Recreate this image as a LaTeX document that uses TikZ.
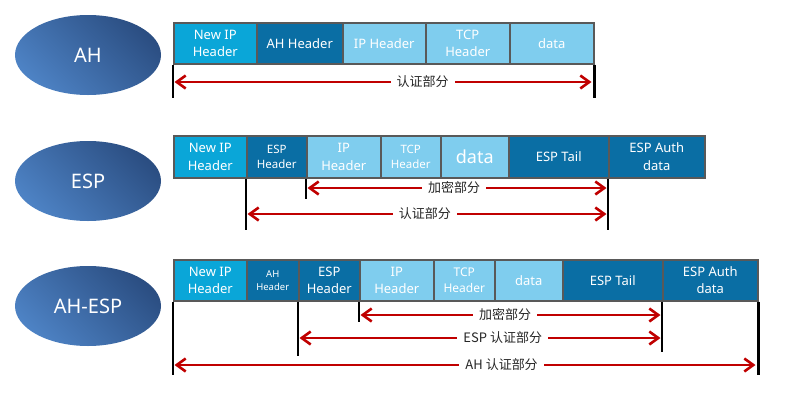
\documentclass[tikz,border=0pt]{standalone}
\usepackage{fontspec}
\setmainfont{Noto Sans}
\newfontfamily\cjk{Noto Sans CJK SC}
\usetikzlibrary{arrows.meta,shapes.geometric}
\definecolor{cA}{HTML}{0AA6D8}
\definecolor{cB}{HTML}{0A6EA4}
\definecolor{cC}{HTML}{7FCDEE}
\definecolor{bd}{HTML}{595959}
\definecolor{ar}{HTML}{C00000}
\definecolor{elA}{HTML}{4D82C4}
\definecolor{elB}{HTML}{2B4E82}
\newcommand\fs[2]{\fontsize{#1}{#2}\selectfont}
\begin{document}
\begin{tikzpicture}[x=1pt,y=-1pt,
  box/.style={draw=bd, line width=1.5pt, text=white, align=center, anchor=north west, inner sep=0pt, font=\fs{13}{17.5}},
  lbl/.style={fill=white, text=black!85, inner xsep=6pt, inner ysep=1pt, font=\cjk\fs{13}{15}},
  arr/.style={draw=ar, line width=2.6pt, {Straight Barb[length=9pt,width=13pt]}-{Straight Barb[length=9pt,width=13pt]}},
  bar/.style={draw=black, line width=2.6pt},
  oval/.style={ellipse, minimum width=146pt, minimum height=80pt, inner sep=0pt, text=white, font=\fs{20}{24},
    left color=elA, right color=elB, shading angle=135}
]
\useasboundingbox (0,0) rectangle (798,405);

% ellipses
\node[oval] (eAH) at (88,55) {AH};
\node[oval] (eESP) at (88,181) {ESP};
\node[oval] (eAE) at (88,306) {AH-ESP};

% row 1
\node[box, fill=cA, minimum width=83pt, minimum height=41pt] (a1) at (173,22) {New IP\\Header};
\node[box, fill=cB, minimum width=86pt, minimum height=41pt] (a2) at (256,22) {AH Header};
\node[box, fill=cC, minimum width=83pt, minimum height=41pt] (a3) at (342,22) {IP Header};
\node[box, fill=cC, minimum width=84pt, minimum height=41pt] (a4) at (425,22) {TCP\\Header};
\node[box, fill=cC, minimum width=84pt, minimum height=41pt] (a5) at (509,22) {data};

% row 2
\node[box, fill=cA, minimum width=73pt, minimum height=42pt] (b1) at (173,135) {New IP\\Header};
\node[box, fill=cB, minimum width=60pt, minimum height=42pt, font=\fs{11.5}{15}] (b2) at (246,135) {ESP\\Header};
\node[box, fill=cC, minimum width=74pt, minimum height=42pt] (b3) at (306,135) {IP\\Header};
\node[box, fill=cC, minimum width=60pt, minimum height=42pt, font=\fs{11.5}{15}] (b4) at (380,135) {TCP\\Header};
\node[box, fill=cC, minimum width=68pt, minimum height=42pt, font=\fs{18}{22}] (b5) at (440,135) {data};
\node[box, fill=cB, minimum width=100pt, minimum height=42pt] (b6) at (508,135) {ESP Tail};
\node[box, fill=cB, minimum width=96pt, minimum height=42pt] (b7) at (608,135) {ESP Auth\\data};

% row 3
\node[box, fill=cA, minimum width=73pt, minimum height=41pt] (c1) at (173,259) {New IP\\Header};
\node[box, fill=cB, minimum width=52pt, minimum height=41pt, font=\fs{9.5}{13}] (c2) at (246,259) {AH\\Header};
\node[box, fill=cB, minimum width=61pt, minimum height=41pt] (c3) at (298,259) {ESP\\Header};
\node[box, fill=cC, minimum width=74pt, minimum height=41pt] (c4) at (359,259) {IP\\Header};
\node[box, fill=cC, minimum width=61pt, minimum height=41pt, font=\fs{12}{16}] (c5) at (433,259) {TCP\\Header};
\node[box, fill=cC, minimum width=68pt, minimum height=41pt] (c6) at (494,259) {data};
\node[box, fill=cB, minimum width=100pt, minimum height=41pt] (c7) at (562,259) {ESP Tail};
\node[box, fill=cB, minimum width=95pt, minimum height=41pt] (c8) at (662,259) {ESP Auth\\data};

% bars row 1
\draw[bar] (a1.south west) -- ++(0,33);
\draw[bar] (a5.south east) -- ++(0,33);
% bars row 2
\draw[bar] (b2.south west) -- ++(0,51);
\draw[bar] (b3.south west) -- ++(0,20);
\draw[bar] (b7.south west) -- ++(0,51);
% bars row 3
\draw[bar] (c1.south west) -- ++(0,73);
\draw[bar] (c3.south west) -- ++(0,54);
\draw[bar] (c4.south west) -- ++(0,20);
\draw[bar] (c8.south west) -- ++(0,50);
\draw[bar] (c8.south east) -- ++(0,73);

% arrow end points
\coordinate (p1L) at (174.5,82); \coordinate (p1R) at (591.5,82);
\coordinate (q1L) at (307.5,188); \coordinate (q1R) at (606.5,188);
\coordinate (q2L) at (247.5,214); \coordinate (q2R) at (606.5,214);
\coordinate (s1L) at (360.5,315); \coordinate (s1R) at (660.5,315);
\coordinate (s2L) at (299.5,338); \coordinate (s2R) at (660.5,338);
\coordinate (s3L) at (174.5,365); \coordinate (s3R) at (755.5,365);

\draw[arr] (p1L) -- node[lbl, pos=0.595] {认证部分} (p1R);
\draw[arr] (q1L) -- node[lbl, pos=0.49] {加密部分} (q1R);
\draw[arr] (q2L) -- node[lbl, pos=0.494] {认证部分} (q2R);
\draw[arr] (s1L) -- node[lbl, pos=0.482] {加密部分} (s1R);
\draw[arr] (s2L) -- node[lbl, pos=0.563] {ESP 认证部分} (s2R);
\draw[arr] (s3L) -- node[lbl, pos=0.563] {AH 认证部分} (s3R);
\end{tikzpicture}
\end{document}
